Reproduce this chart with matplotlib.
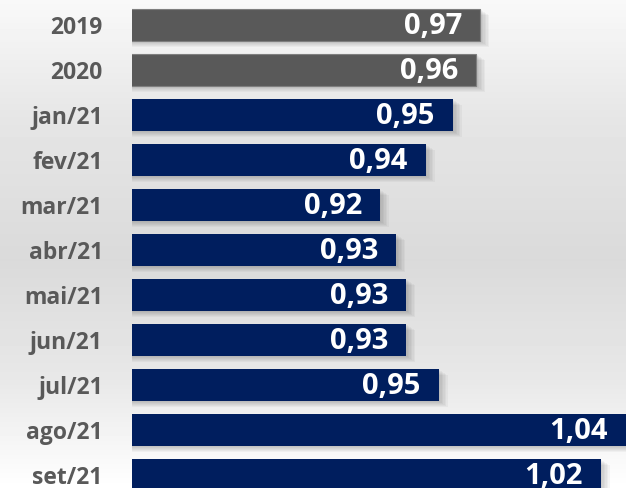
import numpy as np
import matplotlib
matplotlib.use("Agg")
import matplotlib.pyplot as plt
from matplotlib.patches import Rectangle

categories = ["2019", "2020", "jan/21", "fev/21", "mar/21", "abr/21",
              "mai/21", "jun/21", "jul/21", "ago/21", "set/21"]
values = [0.9655, 0.9637, 0.9532, 0.9410, 0.9202, 0.9275,
          0.9320, 0.9320, 0.9468, 1.0450, 1.0202]
value_labels = ["0,97", "0,96", "0,95", "0,94", "0,92", "0,93",
                "0,93", "0,93", "0,95", "1,04", "1,02"]
bar_colors = ["#595959", "#595959"] + ["#001E5E"] * 9

W, H, DPI = 6.26, 4.88, 100
fig = plt.figure(figsize=(W, H), dpi=DPI)

# background gradient
bg = fig.add_axes([0, 0, 1, 1], zorder=-10)
ys = np.linspace(0, 488, 488)
stops_y = [0, 120, 260, 380, 488]
stops_v = [0.975, 0.90, 0.855, 0.91, 1.0]
g = np.interp(ys, stops_y, stops_v)
img = np.repeat(g[:, None], 10, axis=1)
bg.imshow(img, cmap="gray", vmin=0, vmax=1, aspect="auto", extent=[0, 1, 0, 1])
bg.axis("off")

left_px = 132
px_per_unit = 2210.0
x0 = 0.808
ax = fig.add_axes([left_px / 626, 0, 1 - left_px / 626, 1])
ax.set_xlim(x0, x0 + (626 - left_px) / px_per_unit)
pitch = 45.0
ax.set_ylim(10 + 13 / pitch, -25 / pitch)
ax.patch.set_alpha(0)

y = np.arange(len(categories))
h = 32 / pitch

# soft shadows
for i, v in enumerate(values):
    for k in range(1, 7):
        dx = k / px_per_unit
        dy = k / pitch
        ax.add_patch(Rectangle((0, y[i] - h / 2 + dy), v + dx * 1.5, h,
                               facecolor="black", alpha=0.035, lw=0, zorder=1))

edge = ["#7f7f7f", "#7f7f7f"] + ["none"] * 9
ax.barh(y, values, height=h, color=bar_colors, edgecolor=edge, linewidth=0.8, zorder=2)

xmax = ax.get_xlim()[1]
for i, (v, lab) in enumerate(zip(values, value_labels)):
    xe = min(v, xmax)
    ax.annotate(lab, (xe, y[i]), xytext=(-13, -1), textcoords="offset points",
                ha="right", va="center", color="white", fontsize=21,
                fontweight="bold", family="Open Sans", zorder=3)

ax.set_yticks(y)
ax.set_yticklabels(categories, fontsize=16.5, fontweight="bold", family="Open Sans",
                   color="#595959")
ax.tick_params(axis="y", length=0, pad=21)
ax.set_xticks([])
for s in ax.spines.values():
    s.set_visible(False)

fig.savefig("out.png", dpi=DPI)
